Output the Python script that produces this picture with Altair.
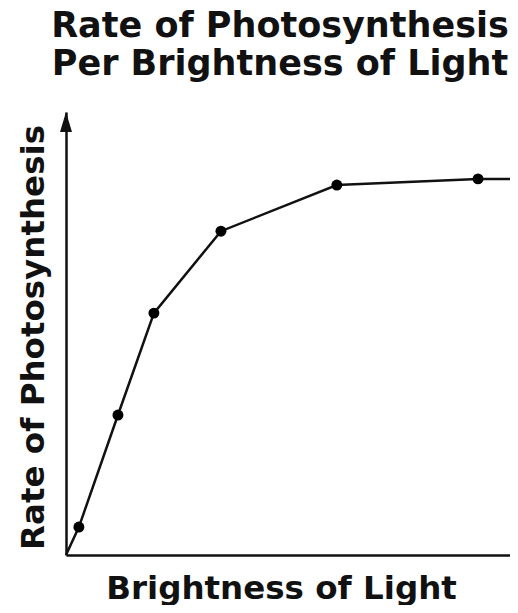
import altair as alt
import pandas as pd

# Data (arbitrary units, 0-100)
line_x = [0, 2.9, 11.7, 19.8, 34.9, 61.0, 92.8, 100]
line_y = [0, 6.3, 31.6, 54.6, 73.1, 83.5, 84.9, 84.9]
pt_x = [2.9, 11.7, 19.8, 34.9, 61.0, 92.8]
pt_y = [6.3, 31.6, 54.6, 73.1, 83.5, 84.9]

title_lines = ["Rate of Photosynthesis", "Per Brightness of Light"]
x_title = "Brightness of Light"
y_title = "Rate of Photosynthesis"

FONT = "DejaVu Sans"

line_df = pd.DataFrame({"x": line_x, "y": line_y})
pt_df = pd.DataFrame({"x": pt_x, "y": pt_y})
arrow_df = pd.DataFrame({"x": [0], "y": [100]})

xs = alt.Scale(domain=[0, 100], nice=False, zero=True)
ys = alt.Scale(domain=[0, 100], nice=False, zero=True)

x_axis = alt.Axis(
    title=x_title, labels=False, ticks=False, grid=False,
    domainColor="#111", domainWidth=2.5,
    titleFont=FONT, titleFontSize=32.5, titleFontWeight="bold", titleColor="#111",
    titleX=215, titleY=43, titleBaseline="alphabetic", titleAlign="center",
)
y_axis = alt.Axis(
    title=y_title, labels=False, ticks=False, grid=False,
    domainColor="#111", domainWidth=2.5,
    titleFont=FONT, titleFontSize=32.5, titleFontWeight="bold", titleColor="#111",
    titleX=-33, titleY=225, titleAngle=270, titleBaseline="middle", titleAlign="center",
)

line = alt.Chart(line_df).mark_line(color="#111", strokeWidth=2.5).encode(
    x=alt.X("x:Q", scale=xs, axis=x_axis),
    y=alt.Y("y:Q", scale=ys, axis=y_axis),
)
points = alt.Chart(pt_df).mark_point(filled=True, color="#000", size=120, opacity=1).encode(
    x=alt.X("x:Q", scale=xs),
    y=alt.Y("y:Q", scale=ys),
)
arrow = alt.Chart(arrow_df).mark_point(
    filled=True, color="#111", opacity=1, size=400,
    shape="M0,0L0.6,2L-0.6,2Z",
).encode(
    x=alt.X("x:Q", scale=xs),
    y=alt.Y("y:Q", scale=ys),
)

chart = alt.layer(line, points, arrow).properties(
    width=444, height=443,
    autosize=alt.AutoSizeParams(type="none"),
    padding={"left": 58, "top": 104, "right": 0, "bottom": 50},
    title=alt.TitleParams(
        text=title_lines, font=FONT, fontSize=35, fontWeight="bold", color="#111",
        anchor="middle", frame="group", dx=-8, offset=2, lineHeight=38,
        baseline="alphabetic",
    ),
).configure_view(stroke=None)

chart.save("out.html", embed_options={"renderer": "svg", "actions": False})
